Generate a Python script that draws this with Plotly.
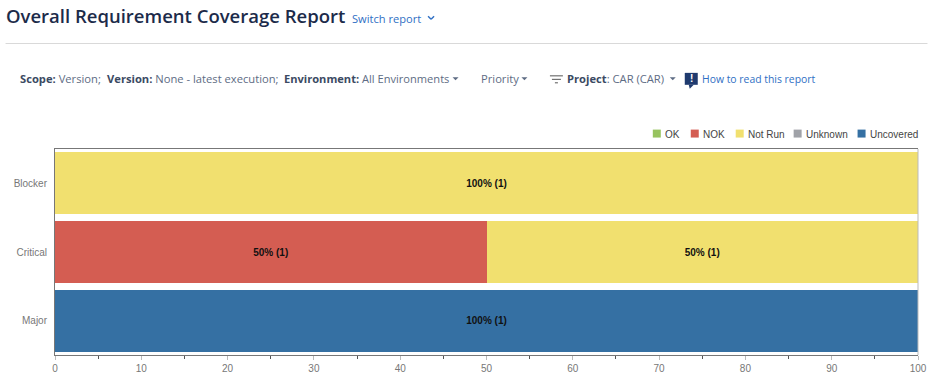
import plotly.graph_objects as go

W, H = 928, 376
L, R, T, B = 54.5, 918.5, 148.5, 355.5  # plot area in px

categories = ["Blocker", "Critical", "Major"]
ok = [0, 0, 0]
nok = [0, 50, 0]
not_run = [100, 50, 0]
unknown = [0, 0, 0]
uncovered = [0, 0, 100]
counts_nok = [0, 1, 0]
counts_not_run = [1, 1, 0]
counts_uncovered = [0, 0, 1]
tick_values = [0, 10, 20, 30, 40, 50, 60, 70, 80, 90, 100]

C_OK, C_NOK, C_NR, C_UNK, C_UNC = "#97C35F", "#D45D52", "#F1E06F", "#A0A2A8", "#3570A3"


def fx(x):
    return (x - L) / (R - L)


def fy(y):
    return (B - y) / (B - T)


def labels(vals, counts):
    return [f"{v}% ({c})" if v else "" for v, c in zip(vals, counts)]


fig = go.Figure()
for name, vals, col, txt in [
    ("OK", ok, C_OK, None),
    ("NOK", nok, C_NOK, labels(nok, counts_nok)),
    ("Not Run", not_run, C_NR, labels(not_run, counts_not_run)),
    ("Unknown", unknown, C_UNK, None),
    ("Uncovered", uncovered, C_UNC, labels(uncovered, counts_uncovered)),
]:
    fig.add_bar(
        y=categories, x=vals, name=name, orientation="h", marker=dict(color=col, line_width=0),
        text=txt, textposition="inside", insidetextanchor="middle", textangle=0,
        insidetextfont=dict(family="Liberation Sans", size=10, color="#111111"),
        texttemplate="<b>%{text}</b>" if txt else None,
        showlegend=False,
    )

annotations = []


def text(x, y, s, size, color, family="Open Sans", anchor="left", weight=None):
    f = dict(family=family, size=size, color=color)
    if weight:
        f["weight"] = weight
    annotations.append(dict(
        x=fx(x), y=fy(y), xref="paper", yref="paper", text=s, showarrow=False,
        xanchor=anchor, yanchor="middle", align="left",
        font=f, borderpad=0, borderwidth=0,
    ))


shapes = []


def rect(x0, y0, x1, y1, color):
    shapes.append(dict(type="rect", xref="paper", yref="paper", x0=fx(x0), x1=fx(x1),
                       y0=fy(y0), y1=fy(y1), fillcolor=color, line_width=0, layer="above"))


def line(x0, y0, x1, y1, color, w=1.0):
    shapes.append(dict(type="line", xref="paper", yref="paper", x0=fx(x0), x1=fx(x1),
                       y0=fy(y0), y1=fy(y1), line=dict(color=color, width=w)))


def bold(s):
    return f'<span style="color:#3B4A63"><b>{s}</b></span>'


BODY, LINK = "#5E6C84", "#2F6FC4"
FS = 11.2

text(5, 14.5, "Overall Requirement Coverage Report", 18.5, "#1C2B4A", weight=600)
text(352, 17, "Switch report", 11.1, LINK)
line(428, 15, 431, 18, LINK, 1.4)
line(431, 18, 434, 15, LINK, 1.4)
line(5, 42.5, 928, 42.5, "#D9D9D9", 1)

text(19, 77.5, bold("Scope:") + " Version;", FS, BODY)
text(107, 77.5, bold("Version:") + " None - latest execution;", FS, BODY)
text(284, 77.5, bold("Environment:") + " All Environments", 11.1, BODY)
text(481, 77.5, "Priority", FS, BODY)
text(567, 77.5, bold("Project") + ": CAR (CAR)", FS, BODY)
text(702, 78, "How to read this report", 10.4, LINK)

for cx in (455.5, 524.5, 673):
    shapes.append(dict(type="path", xref="paper", yref="paper",
                       path=f"M {fx(cx-3)} {fy(76.5)} L {fx(cx+3)} {fy(76.5)} L {fx(cx)} {fy(79.5)} Z",
                       fillcolor="#5E6C84", line_width=0))

line(550, 75, 563, 75, "#555555", 1)
line(552, 78.5, 561, 78.5, "#555555", 1)
line(555, 82, 558, 82, "#555555", 1)

rect(685, 72, 698, 84, "#1F3A6E")
shapes.append(dict(type="path", xref="paper", yref="paper",
                   path=f"M {fx(689)} {fy(84)} L {fx(694)} {fy(84)} L {fx(690)} {fy(88)} Z",
                   fillcolor="#1F3A6E", line_width=0))
text(691.5, 77.5, "<b>!</b>", 10, "#FFFFFF", "Liberation Sans", "center")

legend_items = [("OK", 653, C_OK), ("NOK", 691, C_NOK), ("Not Run", 736, C_NR),
                ("Unknown", 794, C_UNK), ("Uncovered", 858, C_UNC)]
for name, x, col in legend_items:
    rect(x, 129, x + 8, 137, col)
    text(x + 12, 133.5, name, 10, "#444444", "Liberation Sans")

line(R, T, R, B, "#BBBBBB", 1)

fig.update_layout(
    width=W, height=H, autosize=False, barmode="stack", bargap=0.1014,
    paper_bgcolor="white", plot_bgcolor="white", font=dict(family="Liberation Sans", size=10, color="#777777"),
    margin=dict(l=L, r=W - R, t=T, b=H - B, pad=0),
    annotations=annotations, shapes=shapes,
    xaxis=dict(range=[0, 100], tickvals=tick_values, ticks="outside", ticklen=4, tickwidth=1, tickcolor="#BBBBBB",
               automargin=False,
               showgrid=False, zeroline=False, showline=True, linecolor="#777777", linewidth=1, mirror=True,
               tickfont=dict(size=10, color="#777777"),
               minor=dict(tickvals=[5, 15, 25, 35, 45, 55, 65, 75, 85, 95], ticks="outside", ticklen=3, tickcolor="#555555", tickwidth=1)),
    yaxis=dict(categoryorder="array", categoryarray=categories, autorange="reversed", ticks="", ticklen=0,
               automargin=False, ticklabelstandoff=5,
               showgrid=False, zeroline=False, showline=True, linecolor="#777777", linewidth=1, mirror=False,
               tickfont=dict(size=10, color="#777777")),
)

fig.write_html("out.html", config=dict(displayModeBar=False),
               post_script="document.body.style.margin='0';document.body.style.overflow='hidden';")
